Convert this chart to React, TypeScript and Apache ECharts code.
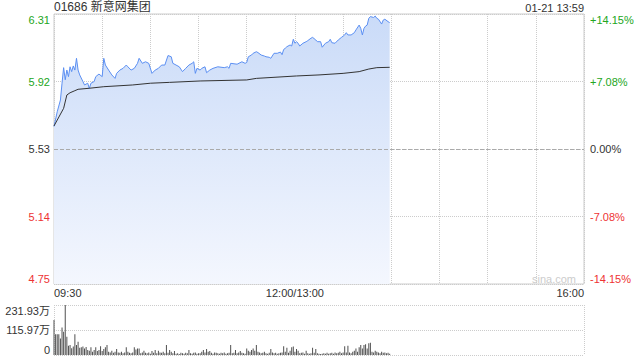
import React, { useEffect, useRef } from "react";
import * as echarts from "echarts";

const stockTitle = "01686 新意网集团";
const timeStamp = "01-21 13:59";
const prevClose = 5.53;
const priceStep = 0.39;
const priceLabels = ["4.75", "5.14", "5.53", "5.92", "6.31"];
const pctLabels = ["-14.15%", "-7.08%", "0.00%", "+7.08%", "+14.15%"];
const timeLabels: Record<number, string> = { 0: "09:30", 150: "12:00/13:00", 330: "16:00" };
const volLabels = ["0", "115.97万", "231.93万"];
const volMax = 231.93;

// minute index (from 09:30, lunch break removed) and price
const priceMinutes = [
  0, 2, 4, 5, 6, 7, 8, 9, 10, 11, 12, 13, 14, 15, 16, 18, 19, 21, 22, 23, 25, 26, 28, 30, 31, 32, 34, 36, 38, 39,
  41, 43, 45, 46, 48, 50, 52, 53, 55, 57, 59, 61, 63, 65, 67, 69, 71, 73, 74, 76, 78, 80, 82, 84, 86, 87, 88, 89,
  91, 92, 94, 95, 97, 99, 102, 106, 108, 109, 110, 114, 117, 119, 120, 121, 123, 124, 126, 127, 129, 131, 132,
  134, 135, 137, 139, 141, 142, 143, 144, 145, 147, 148, 149, 150, 151, 152, 153, 155, 157, 158, 160, 161, 163,
  164, 166, 167, 169, 171, 172, 173, 175, 177, 179, 181, 182, 183, 185, 187, 188, 190, 191, 192, 193, 194, 195,
  196, 197, 199, 200, 201, 202, 204, 205, 206, 208, 209,
];
const prices = [
  5.66, 5.745, 5.813, 5.91, 6.0, 5.93, 5.986, 5.948, 6.005, 5.977, 6.01, 5.986, 6.054, 5.986, 5.958, 5.92, 5.9,
  5.91, 5.88, 5.91, 5.92, 5.948, 5.963, 5.948, 6.054, 6.015, 5.986, 5.958, 5.938, 5.967,
  5.986, 5.996, 6.015, 6.005, 5.986, 5.996, 6.025, 6.054, 6.025, 6.034, 6.025, 5.967, 5.986, 5.996, 6.015, 6.015,
  6.07, 6.063, 6.025, 6.015, 6.005, 5.977, 5.996, 6.015, 6.025, 6.034, 5.967, 5.996,
  5.986, 5.996, 6.005, 5.971, 5.986, 5.996, 6.005, 6.0, 6.005, 5.996, 6.025, 6.02, 6.034, 6.025, 6.03, 6.063,
  6.073, 6.083, 6.092, 6.087, 6.073, 6.067, 6.063,
  6.06, 6.054, 6.083, 6.083, 6.09, 6.075, 6.105, 6.112, 6.121, 6.131, 6.125, 6.164, 6.141, 6.15, 6.141, 6.125,
  6.141, 6.15, 6.156, 6.17, 6.175, 6.16,
  6.15, 6.15, 6.118, 6.141, 6.15, 6.164, 6.144, 6.141, 6.16, 6.175, 6.189, 6.202, 6.189, 6.189, 6.202, 6.218,
  6.246, 6.227, 6.189, 6.227, 6.24, 6.246,
  6.285, 6.295, 6.29, 6.298, 6.285, 6.28, 6.252, 6.275, 6.28, 6.266, 6.26,
];

const avgMinutes = [0, 6, 8, 10, 13, 15, 22, 31, 49, 60, 72, 91, 120, 126, 151, 165, 180, 190, 196, 201, 209];
const avgPrices = [
  5.663, 5.765, 5.842, 5.855, 5.867, 5.875, 5.881, 5.89, 5.9, 5.91, 5.915, 5.923, 5.929, 5.938, 5.952, 5.958,
  5.967, 5.977, 5.992, 6.0, 6.002,
];

// per-minute volume, in 万 shares
const volumes = [
  162, 96, 96, 96, 77, 128, 108, 232, 85, 43, 46, 31, 39, 96, 46, 62, 34, 36, 39, 30,
  37, 23, 20, 36, 15, 23, 36, 18, 23, 41, 18, 28, 36, 46, 15, 12, 20, 10, 15, 28,
  12, 10, 15, 8, 12, 36, 15, 10, 8, 12, 36, 25, 30, 30, 8, 12, 20, 10, 8, 12,
  6, 18, 10, 23, 8, 20, 12, 10, 15, 8, 46, 10, 23, 15, 8, 18, 6, 8, 5, 10,
  8, 6, 10, 8, 23, 8, 6, 10, 12, 6, 8, 8, 15, 23, 12, 28, 15, 18, 10, 6,
  12, 10, 8, 6, 10, 8, 12, 6, 8, 10, 46, 8, 10, 23, 8, 12, 18, 10, 8, 6,
  30, 20, 15, 23, 30, 20, 46, 15, 12, 8, 10, 15, 8, 6, 10, 28, 12, 8, 10, 6,
  8, 10, 12, 41, 15, 34, 10, 20, 36, 39, 15, 28, 20, 8, 10, 12, 6, 20, 8, 6,
  8, 34, 10, 28, 8, 6, 5, 6, 8, 6, 10, 6, 8, 10, 6, 12, 8, 10, 15, 8,
  12, 41, 12, 43, 12, 8, 15, 20, 30, 15, 36, 46, 30, 46, 50, 30, 54, 57, 15, 12,
  20, 15, 12, 8, 15, 10, 12, 8, 10, 6,
];

const FONT = "Arial, 'Liberation Sans', 'Noto Sans CJK SC', sans-serif";
const GREEN = "#22a622";
const RED = "#ee3333";
const DARK = "#333333";

const toLevel = (p: number) => (p - prevClose) / priceStep;
const levelColor = (v: number) => (v > 0 ? GREEN : v < 0 ? RED : DARK);

export default function App() {
  const ref = useRef<HTMLDivElement>(null);
  useEffect(() => {
    if (!ref.current) return;
    const chart = echarts.init(ref.current, undefined, { renderer: "svg" });
    const priceData = priceMinutes.map((m, k) => [m, toLevel(prices[k])]);
    const avgData = avgMinutes.map((m, k) => [m, toLevel(avgPrices[k])]);
    const volData = volumes.map((v, i) => [i, v]);
    chart.setOption({
      animation: false,
      textStyle: { fontFamily: FONT },
      title: [
        {
          text: stockTitle,
          left: 54,
          top: 1,
          padding: 0,
          textStyle: { fontSize: 12, fontWeight: "normal", color: DARK, fontFamily: FONT },
        },
        {
          text: timeStamp,
          right: 56,
          top: 2,
          padding: 0,
          textStyle: { fontSize: 11, fontWeight: "normal", color: DARK, fontFamily: FONT },
        },
      ],
      graphic: [
        {
          type: "text",
          left: 532,
          top: 273,
          style: { text: "sina.com", fill: "#cccccc", font: `11px ${FONT}` },
          silent: true,
        },
      ],
      grid: [
        { left: 54, right: 56, top: 14, height: 270, show: true, borderColor: "#cccccc", borderWidth: 1 },
        { left: 54, right: 56, top: 305, height: 50 },
      ],
      xAxis: [
        {
          type: "value",
          gridIndex: 0,
          min: 0,
          max: 330,
          interval: 30,
          axisLine: { show: false },
          axisTick: { show: false },
          axisLabel: {
            formatter: (v: number) => timeLabels[v] || "",
            color: DARK,
            fontSize: 11,
            margin: 3,
            alignMinLabel: "left",
            alignMaxLabel: "right",
            showMinLabel: true,
            showMaxLabel: true,
          },
          splitLine: { show: true, lineStyle: { type: "dotted", color: "#cccccc", width: 1 } },
        },
        {
          type: "value",
          gridIndex: 1,
          min: 0,
          max: 330,
          interval: 330,
          axisLine: { show: false },
          axisTick: { show: false },
          axisLabel: { show: false },
          splitLine: { show: true, lineStyle: { type: "dotted", color: "#cccccc", width: 1 } },
        },
      ],
      yAxis: [
        {
          type: "value",
          gridIndex: 0,
          position: "left",
          min: -2,
          max: 2,
          interval: 1,
          axisLine: { show: false },
          axisTick: { show: false },
          axisLabel: {
            formatter: (v: number) => priceLabels[Math.round(v) + 2],
            color: (v: number) => levelColor(v),
            fontSize: 11,
            margin: 4,
            verticalAlignMinLabel: "bottom",
            verticalAlignMaxLabel: "top",
          },
          splitLine: { show: true, lineStyle: { type: "dotted", color: "#cccccc", width: 1 } },
        },
        {
          type: "value",
          gridIndex: 0,
          position: "right",
          min: -2,
          max: 2,
          interval: 1,
          axisLine: { show: false },
          axisTick: { show: false },
          axisLabel: {
            formatter: (v: number) => pctLabels[Math.round(v) + 2],
            color: (v: number) => levelColor(v),
            fontSize: 11,
            margin: 6,
            verticalAlignMinLabel: "bottom",
            verticalAlignMaxLabel: "top",
          },
          splitLine: { show: false },
        },
        {
          type: "value",
          gridIndex: 1,
          min: 0,
          max: volMax,
          interval: volMax / 2,
          axisLine: { show: false },
          axisTick: { show: false },
          axisLabel: {
            formatter: (_v: number, idx: number) => volLabels[idx] ?? "",
            color: DARK,
            fontSize: 11,
            margin: 4,
            verticalAlignMinLabel: "bottom",
            verticalAlignMaxLabel: "top",
          },
          splitLine: { show: true, lineStyle: { type: "dotted", color: "#cccccc", width: 1 } },
        },
      ],
      series: [
        {
          type: "line",
          xAxisIndex: 0,
          yAxisIndex: 0,
          data: priceData,
          showSymbol: false,
          symbol: "none",
          lineStyle: { color: "#5b8ff2", width: 1 },
          areaStyle: {
            origin: "start",
            opacity: 1,
            color: new echarts.graphic.LinearGradient(0, 0, 0, 1, [
              { offset: 0, color: "#cadbf8" },
              { offset: 1, color: "#f4f7fe" },
            ]),
          },
          markLine: {
            silent: true,
            symbol: "none",
            label: { show: false },
            lineStyle: { type: "dashed", color: "#aaaaaa", width: 1 },
            data: [{ yAxis: 0 }],
          },
          z: 3,
        },
        {
          type: "line",
          xAxisIndex: 0,
          yAxisIndex: 0,
          data: avgData,
          showSymbol: false,
          symbol: "none",
          lineStyle: { color: "#333333", width: 1 },
          z: 4,
        },
        {
          type: "bar",
          xAxisIndex: 1,
          yAxisIndex: 2,
          data: volData,
          barWidth: 1,
          itemStyle: { color: "#505050" },
        },
      ],
    });
    return () => chart.dispose();
  }, []);
  return (
    <div
      ref={ref}
      style={{ position: "fixed", left: 0, top: 0, width: 640, height: 360, background: "#ffffff" }}
    />
  );
}
